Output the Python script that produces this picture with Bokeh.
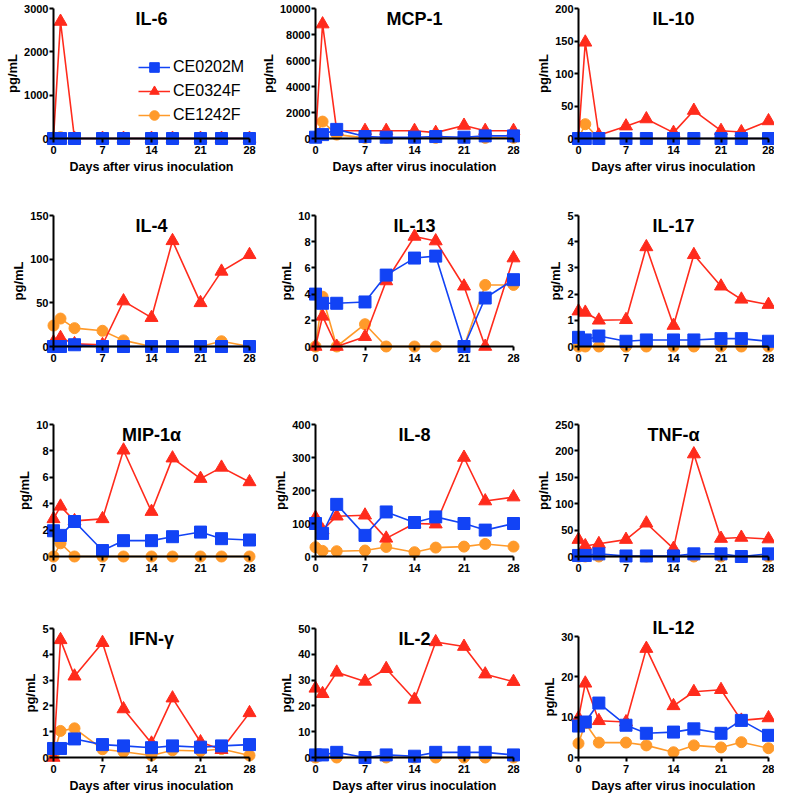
from bokeh.plotting import figure
from bokeh.models import Range1d, FixedTicker, Label, Legend, LegendItem
from bokeh.layouts import column, row
from bokeh.embed import file_html
from bokeh.resources import INLINE

# ---------------- data ----------------
days = [0, 1, 3, 7, 10, 14, 17, 21, 24, 28]
x_ticks = [0, 7, 14, 21, 28]
series_names = ["CE0202M", "CE0324F", "CE1242F"]
x_label = "Days after virus inoculation"
y_label = "pg/mL"

il6_ce0202m = [0, 0, 0, 0, 0, 0, 0, 0, 0, 0]
il6_ce0324f = [0, 2700, 0, 0, 0, 0, 0, 0, 0, 0]
il6_ce1242f = [0, 30, 0, 0, 0, 0, 0, 0, 0, 0]
il6_ticks = [0, 1000, 2000, 3000]

mcp1_ce0202m = [100, 300, 700, 150, 100, 100, 150, 100, 200, 200]
mcp1_ce0324f = [0, 8800, 600, 600, 600, 600, 450, 1000, 600, 600]
mcp1_ce1242f = [100, 1300, 300, 50, 50, 50, 50, 50, 50, 50]
mcp1_ticks = [0, 2000, 4000, 6000, 8000, 10000]

il10_ce0202m = [0, 0, 0, 0, 0, 0, 0, 0, 0, 0]
il10_ce0324f = [0, 148, 5, 19, 30, 9, 43, 12, 10, 27]
il10_ce1242f = [0, 22, 0, 0, 0, 0, 0, 0, 0, 0]
il10_ticks = [0, 50, 100, 150, 200]

il4_ce0202m = [0, 0, 2, 0, 0, 0, 0, 0, 0, 0]
il4_ce0324f = [5, 10, 3, 2, 52, 33, 121, 50, 86, 105]
il4_ce1242f = [24, 32, 21, 18, 7, 0, 0, 0, 6, 0]
il4_ticks = [0, 50, 100, 150]

il13_ce0202m = [4.0, 3.3, 3.3, 3.4, 5.45, 6.75, 6.9, 0, 3.7, 5.1]
il13_ce0324f = [0, 2.3, 0, 0.75, 5.0, 8.4, 8.05, 4.6, 0, 6.75]
il13_ce1242f = [0, 3.8, 0, 1.7, 0, 0, 0, 0, 4.7, 4.7]
il13_ticks = [0, 2, 4, 6, 8, 10]

il17_ce0202m = [0.35, 0.25, 0.4, 0.2, 0.25, 0.25, 0.25, 0.3, 0.3, 0.2]
il17_ce0324f = [1.35, 1.3, 1.0, 1.02, 3.8, 0.8, 3.5, 2.3, 1.8, 1.6]
il17_ce1242f = [0, 0, 0, 0, 0, 0, 0, 0, 0, 0]
il17_ticks = [0, 1, 2, 3, 4, 5]

mip1a_ce0202m = [1.95, 1.6, 2.65, 0.45, 1.2, 1.2, 1.5, 1.85, 1.35, 1.25]
mip1a_ce0324f = [2.85, 3.8, 2.7, 2.85, 8.05, 3.4, 7.45, 5.9, 6.75, 5.65]
mip1a_ce1242f = [0, 1.0, 0, 0, 0, 0, 0, 0, 0, 0]
mip1a_ticks = [0, 2, 4, 6, 8, 10]

il8_ce0202m = [100, 70, 158, 64, 135, 103, 120, 100, 80, 100]
il8_ce0324f = [118, 80, 122, 125, 55, 100, 98, 300, 168, 180]
il8_ce1242f = [28, 17, 16, 18, 29, 13, 27, 30, 38, 30]
il8_ticks = [0, 100, 200, 300, 400]

tnfa_ce0202m = [2, 2, 5, 1, 1, 1, 5, 5, 0, 5]
tnfa_ce0324f = [32, 20, 24, 32, 63, 15, 194, 34, 36, 33]
tnfa_ce1242f = [0, 0, 0, 0, 0, 0, 0, 0, 0, 0]
tnfa_ticks = [0, 50, 100, 150, 200, 250]

ifng_ce0202m = [0.35, 0.35, 0.72, 0.5, 0.45, 0.38, 0.45, 0.4, 0.45, 0.5]
ifng_ce0324f = [0, 4.56, 3.15, 4.45, 1.88, 0.55, 2.3, 0.6, 0.3, 1.73]
ifng_ce1242f = [0.1, 1.03, 1.13, 0.32, 0.22, 0.08, 0.28, 0.25, 0.33, 0.08]
ifng_ticks = [0, 1, 2, 3, 4, 5]

il2_ce0202m = [1, 1, 2, 0, 1, 0.5, 2, 2, 2, 1]
il2_ce0324f = [26.8, 24.7, 33, 29.5, 34.4, 22.5, 44.8, 43, 32.3, 29.4]
il2_ce1242f = [0, 1, 0, 0, 0, 0, 0, 0, 0, 0]
il2_ticks = [0, 10, 20, 30, 40, 50]

il12_ce0202m = [7.8, 8.8, 13.5, 8.0, 6.0, 6.3, 7.1, 6.0, 9.2, 5.5]
il12_ce0324f = [9.8, 18.4, 9.1, 8.8, 27, 12.8, 16.3, 16.8, 9.2, 9.8]
il12_ce1242f = [3.5, 8.5, 3.7, 3.7, 3.0, 1.3, 3.0, 2.5, 3.8, 2.3]
il12_ticks = [0, 10, 20, 30]

panels = [
    ("IL-6", il6_ce0202m, il6_ce0324f, il6_ce1242f, il6_ticks),
    ("MCP-1", mcp1_ce0202m, mcp1_ce0324f, mcp1_ce1242f, mcp1_ticks),
    ("IL-10", il10_ce0202m, il10_ce0324f, il10_ce1242f, il10_ticks),
    ("IL-4", il4_ce0202m, il4_ce0324f, il4_ce1242f, il4_ticks),
    ("IL-13", il13_ce0202m, il13_ce0324f, il13_ce1242f, il13_ticks),
    ("IL-17", il17_ce0202m, il17_ce0324f, il17_ce1242f, il17_ticks),
    ("MIP-1\u03b1", mip1a_ce0202m, mip1a_ce0324f, mip1a_ce1242f, mip1a_ticks),
    ("IL-8", il8_ce0202m, il8_ce0324f, il8_ce1242f, il8_ticks),
    ("TNF-\u03b1", tnfa_ce0202m, tnfa_ce0324f, tnfa_ce1242f, tnfa_ticks),
    ("IFN-\u03b3", ifng_ce0202m, ifng_ce0324f, ifng_ce1242f, ifng_ticks),
    ("IL-2", il2_ce0202m, il2_ce0324f, il2_ce1242f, il2_ticks),
    ("IL-12", il12_ce0202m, il12_ce0324f, il12_ce1242f, il12_ticks),
]

# ---------------- style / layout ----------------
FONT = "Liberation Sans"
BLUE = "#1243F5"
RED = "#FF2B1C"
ORANGE = "#FF9A2A"

# column: (figure width, px of day 0, px of day 28)
col_specs = [(262, 53, 249), (262, 53, 251), (250, 54, 244)]
# row: (figure height, px of y-axis top, px of y = 0, show x label)
row_specs = [(205, 8, 138, True), (209, 10, 141, False),
             (200, 10, 142, False), (180, 14, 143, True)]


def make_panel(idx):
    name, s_m, s_r, s_o, yt = panels[idx]
    ri, ci = divmod(idx, 3)
    W, x0, x28 = col_specs[ci]
    H, ytop, y0, show_x = row_specs[ri]
    title_px = ytop + 10
    if name == "IL-12":
        title_px = ytop - 1
        ytop += 8
    top = yt[-1]
    ppd = (x28 - x0) / 28.0
    ppy = (y0 - ytop) / float(top)

    p = figure(width=W, height=H, output_backend="svg", toolbar_location=None,
               x_range=Range1d(-x0 / ppd, (W - x0) / ppd),
               y_range=Range1d(-(H - y0) / ppy, top + ytop / ppy),
               min_border_left=0, min_border_right=0,
               min_border_top=0, min_border_bottom=0)
    p.outline_line_color = None
    p.grid.visible = False
    p.background_fill_color = "white"
    p.border_fill_color = "white"

    for ax in (p.xaxis[0], p.yaxis[0]):
        ax.fixed_location = 0
        ax.axis_line_width = 2
        ax.axis_line_color = "black"
        ax.major_tick_line_width = 2
        ax.major_tick_line_color = "black"
        ax.major_tick_in = 0
        ax.major_tick_out = 4
        ax.minor_tick_line_color = None
        ax.major_label_text_font = FONT
        ax.major_label_text_font_style = "bold"
        ax.major_label_text_font_size = "11px"
        ax.major_label_text_color = "black"
        ax.axis_label_text_font = FONT
        ax.axis_label_text_font_style = "bold"
        ax.axis_label_text_color = "black"

    p.xaxis.ticker = FixedTicker(ticks=x_ticks)
    p.xaxis.bounds = (0, 28)
    p.xaxis.major_label_standoff = 3
    if show_x:
        p.xaxis.axis_label = x_label
        p.xaxis.axis_label_text_font_size = "12.5px"
        p.xaxis.axis_label_standoff = 3

    p.yaxis.ticker = FixedTicker(ticks=yt)
    p.yaxis.bounds = (0, top)
    p.yaxis.major_label_standoff = 1
    p.yaxis.axis_label = y_label
    p.yaxis.axis_label_text_font_size = "13px"
    p.yaxis.axis_label_standoff = 1

    # draw order: orange, red, blue on top
    lo = p.line(days, s_o, line_color=ORANGE, line_width=1.6)
    so = p.scatter(days, s_o, marker="circle", size=11, fill_color=ORANGE, line_color=ORANGE)
    lr = p.line(days, s_r, line_color=RED, line_width=1.6)
    sr = p.scatter(days, s_r, marker="triangle", size=13, fill_color=RED, line_color=RED)
    lb = p.line(days, s_m, line_color=BLUE, line_width=1.6)
    sb = p.scatter(days, s_m, marker="square", size=12, fill_color=BLUE, line_color=BLUE)

    title_y = top + (ytop - title_px) / ppy
    p.add_layout(Label(x=14, y=title_y, text=name,
                       text_align="center", text_baseline="middle",
                       text_font=FONT, text_font_style="bold",
                       text_font_size="18px", text_color="black"))

    if idx == 0:
        legend = Legend(items=[
            LegendItem(label=series_names[0], renderers=[lb, sb]),
            LegendItem(label=series_names[1], renderers=[lr, sr]),
            LegendItem(label=series_names[2], renderers=[lo, so]),
        ], location=(138, 78))
        legend.label_text_font = FONT
        legend.label_text_font_size = "16px"
        legend.label_text_color = "black"
        legend.glyph_width = 32
        legend.glyph_height = 24
        legend.label_height = 16
        legend.label_standoff = 3
        legend.spacing = 0
        legend.padding = 0
        legend.margin = 0
        legend.border_line_color = None
        legend.background_fill_alpha = 0
        p.add_layout(legend)
    return p


figs = [make_panel(i) for i in range(12)]
layout = column(*[row(*figs[r * 3:(r + 1) * 3]) for r in range(4)])

open("out.html", "w").write(file_html(layout, INLINE))
